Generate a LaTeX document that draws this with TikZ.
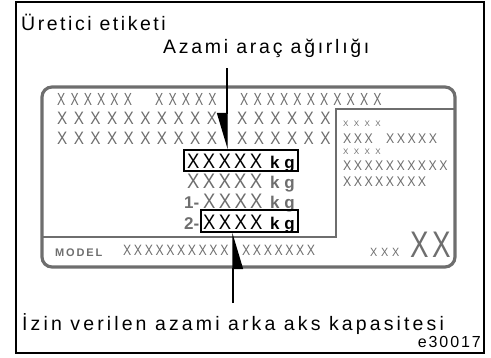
\documentclass[tikz,border=0pt]{standalone}
\usepackage{fontspec}
\setmainfont{Liberation Sans}
\usetikzlibrary{arrows.meta}

\definecolor{lblgray}{HTML}{6E6E6E}

% condensed, letter-spaced label text: {xscale}{size}{tracking}{text}
\newcommand\lbltxt[4]{\scalebox{#1}[1]{\fontsize{#2}{#2}\selectfont\addfontfeature{LetterSpace=#3}#4}}
\newcommand\capt[2]{{\addfontfeature{LetterSpace=#1}#2}}

\tikzset{
  caption/.style={anchor=base west, inner sep=0pt, font=\fontsize{19.5}{21}\selectfont},
  lbl/.style={anchor=base west, inner sep=0pt, text=lblgray},
  unit/.style={anchor=base west, inner sep=0pt, font=\fontsize{17}{17}\selectfont\bfseries},
  valbox/.style={draw, line width=1.6pt, inner sep=0pt},
  callout/.style={line width=1.3pt, -{Triangle[harpoon, swap, length=34pt, width=20pt]}},
}

\begin{document}
\begin{tikzpicture}[x=1pt, y=-1pt]
\useasboundingbox (0,0) rectangle (491,357);

% outer frame
\draw[line width=1.8pt] (16,2) rectangle (484,353);

% captions
\node[caption] (maker) at (21,30) {\capt{13}{Üretici etiketi}};
\node[caption] (gvw) at (163,53) {\capt{14}{Azami araç ağırlığı}};
\node[caption] (axle) at (22,330) {\capt{16}{İzin verilen azami arka aks kapasitesi}};
\node[caption, anchor=base east, font=\fontsize{16}{16}\selectfont] (code) at (481,347) {\capt{12}{e30017}};

% label plate
\draw[draw=lblgray, line width=3.2pt, rounded corners=10pt] (42,87) rectangle (455,267);
\draw[draw=lblgray, line width=2.2pt] (42,237) -| (336,109) -- (455,109);

% top rows
\node[lbl] (rowAa) at (57,105) {\lbltxt{0.7}{17.5}{42}{XXXXXX}};
\node[lbl] (rowAb) at (155,105) {\lbltxt{0.7}{17.5}{42}{XXXXX}};
\node[lbl] (rowAc) at (240,105) {\lbltxt{0.7}{17.5}{42}{XXXXXXXXXXX}};
\node[lbl] (rowBa) at (57,124) {\lbltxt{0.85}{18}{42}{XXXXXXXXXX}};
\node[lbl] (rowBb) at (237,124) {\lbltxt{0.85}{18}{42}{XXXXXX}};
\node[lbl] (rowCa) at (57,144) {\lbltxt{0.85}{18}{42}{XXXXXXXXXX}};
\node[lbl] (rowCb) at (237,144) {\lbltxt{0.85}{18}{42}{XXXXXX}};

% weight block
\node[valbox, minimum width=114pt, minimum height=21pt] (gvwbox) at (241,160.5) {};
\node[lbl, text=black] (gvwval) at (187,168) {\lbltxt{0.88}{21}{18}{XXXXX}};
\node[unit] (gvwunit) at (270,168) {\capt{28}{kg}};
\node[lbl] (frontval) at (187,188) {\lbltxt{0.88}{21}{18}{XXXXX}};
\node[unit, text=lblgray] (frontunit) at (270,188) {\capt{28}{kg}};
\node[unit, text=lblgray] (oneno) at (184,208) {1-};
\node[lbl] (oneval) at (203,208) {\lbltxt{0.88}{21}{18}{XXXX}};
\node[unit, text=lblgray] (oneunit) at (270,208) {\capt{28}{kg}};
\node[valbox, minimum width=97pt, minimum height=22pt] (axlebox) at (249.5,221) {};
\node[unit, text=lblgray] (twono) at (184,229) {2-};
\node[lbl, text=black] (twoval) at (203,229) {\lbltxt{0.88}{21}{18}{XXXX}};
\node[unit] (twounit) at (270,229) {\capt{28}{kg}};

% right column
\node[lbl] (sideA) at (343,126) {\lbltxt{1}{8}{67}{XXXX}};
\node[lbl] (sideBa) at (343,143) {\lbltxt{0.88}{14}{20}{XXX}};
\node[lbl] (sideBb) at (386,143) {\lbltxt{0.88}{14}{20}{XXXXX}};
\node[lbl] (sideC) at (343,154) {\lbltxt{1}{8}{67}{XXXX}};
\node[lbl] (sideD) at (343,170) {\lbltxt{0.88}{14}{20}{XXXXXXXXXX}};
\node[lbl] (sideE) at (343,186) {\lbltxt{0.88}{14}{20}{XXXXXXXX}};

% bottom row
\node[lbl, font=\fontsize{11}{11}\selectfont\bfseries] (model) at (55,256) {\capt{17}{MODEL}};
\node[lbl] (modelA) at (123,255) {\lbltxt{0.82}{15}{21}{XXXXXXXXXX}};
\node[lbl] (modelB) at (242,255) {\lbltxt{0.82}{15}{21}{XXXXXXX}};
\node[lbl] (smallx) at (370,256) {\lbltxt{0.9}{12}{35}{XXX}};
\node[lbl] (bigx) at (410,257) {\lbltxt{0.75}{37}{12}{XX}};

% callouts
\coordinate (gvwtail) at (227,68);
\coordinate (axletail) at (233,303);
\draw[callout] (gvwtail) -- (gvwtail |- gvwbox.north);
\draw[callout] (axletail) -- (axletail |- axlebox.south);
\end{tikzpicture}
\end{document}
